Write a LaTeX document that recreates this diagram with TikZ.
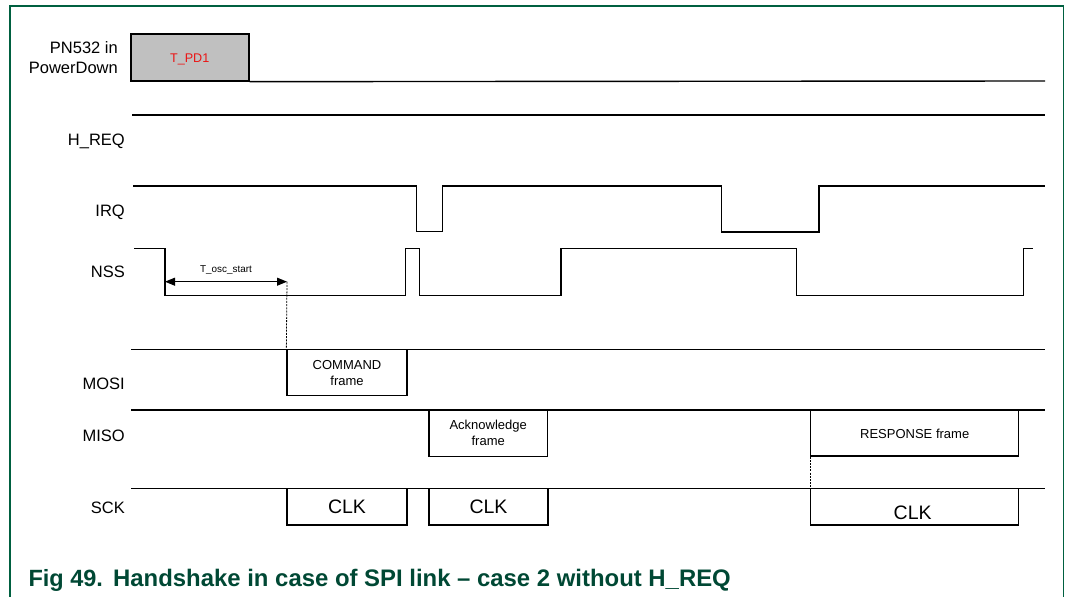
\documentclass[tikz,border=0pt]{standalone}
\usepackage{fontspec}
\setmainfont{Liberation Sans}
\usetikzlibrary{arrows.meta}
\definecolor{framegreen}{RGB}{0,96,64}
\definecolor{capgreen}{RGB}{0,72,52}
\definecolor{boxgray}{RGB}{192,192,192}
\definecolor{tred}{RGB}{235,20,20}
\tikzset{
  sig/.style={line width=1.4pt, line join=miter},
  frm/.style={draw, line width=1.3pt, inner sep=0pt, align=center},
  lbl/.style={anchor=base east, inner sep=0pt, font=\fontsize{16.5}{20}\selectfont},
  frtxt/.style={font=\fontsize{13}{16.4}\selectfont},
  clktxt/.style={anchor=base, inner sep=0pt, font=\fontsize{19.5}{22}\selectfont},
  guide/.style={line width=0.8pt, dash pattern=on 2pt off 1.2pt},
}
\begin{document}
\begin{tikzpicture}[x=1pt,y=-1pt]
\useasboundingbox (0,0) rectangle (1066,597);
% frame
\draw[framegreen, line width=1.3pt] (10,597) -- (10,6) -- (1063.7,6) -- (1063.7,597);

% signal labels
\node[lbl, align=right] (lpn) at (118,73.6) {PN532 in\\PowerDown};
\node[lbl] (lhreq) at (125,145.9) {H\_REQ};
\node[lbl] (lirq) at (125,216) {IRQ};
\node[lbl] (lnss) at (125,277.6) {NSS};
\node[lbl] (lmosi) at (125,389.2) {MOSI};
\node[lbl] (lmiso) at (125,441.6) {MISO};
\node[lbl] (lsck) at (125,513.2) {SCK};

% PN532 power down
\node[frm, fill=boxgray, minimum width=118pt, minimum height=47pt] (tpd) at (190,57.5) {};
\node[anchor=base, inner sep=0pt, text=tred, font=\fontsize{12.6}{14}\selectfont] (tpdt) at (189.7,62.2) {T\_PD1};
\draw[sig] (tpd.south east) -- (1045,81);

% H_REQ
\draw[sig] (132,115) -- (1045,115);

% IRQ
\draw[sig] (133,186) -- (416.5,186) -- (416.5,231.7) -- (442.7,231.7) -- (442.7,186)
  -- (721.7,186) -- (721.7,232) -- (819,232) -- (819,186) -- (1045,186);

% NSS
\draw[sig] (134,248.3) -- (165,248.3) -- (165,295.7) -- (405.5,295.7) -- (405.5,248.3)
  -- (419.3,248.3) -- (419.3,295.7) -- (561,295.7) -- (561,248.3) -- (796.7,248.3)
  -- (796.7,295.7) -- (1023.3,295.7) -- (1023.3,248.3) -- (1032.7,248.3);

% T_osc_start
\coordinate (oscA) at (165,281.7);
\coordinate (oscB) at (287,281.7);
\draw[line width=1pt, {Triangle[length=10pt,width=8pt]}-{Triangle[length=10pt,width=8pt]}] (oscA) -- (oscB);
\node[anchor=base, inner sep=0pt, font=\fontsize{9.9}{12}\selectfont] (osct) at (226,272.5) {T\_osc\_start};

% MOSI
\draw[sig] (131,349.3) -- (1045,349.3);
\node[frm, frtxt, minimum width=120pt, minimum height=46.5pt] (cmd) at (347,372.5) {};
\node[frtxt, inner sep=0pt, align=center, anchor=base] (cmdt) at (347,385.4) {COMMAND\\frame};
\draw[guide] (oscB) -- (cmd.north west);

% MISO
\draw[sig] (131,410) -- (1045,410);
\node[frm, minimum width=118.5pt, minimum height=46.5pt] (ack) at (488.2,433.2) {};
\node[frtxt, inner sep=0pt, align=center, anchor=base] (ackt) at (488.2,445.4) {Acknowledge\\frame};
\node[frm, minimum width=208pt, minimum height=46pt] (resp) at (914.7,433) {};
\node[frtxt, inner sep=0pt, anchor=base] (respt) at (914.7,438.7) {RESPONSE frame};

% SCK
\draw[sig] (131,488.3) -- (1045,488.3);
\node[frm, minimum width=120pt, minimum height=36.7pt] (clk1) at (347,506.7) {};
\node[clktxt] (clk1t) at (347,513.7) {CLK};
\node[frm, minimum width=119pt, minimum height=36.7pt] (clk2) at (488.5,506.7) {};
\node[clktxt] (clk2t) at (488.5,513.7) {CLK};
\node[frm, minimum width=208pt, minimum height=36.7pt] (clk3) at (914.7,506.7) {};
\node[clktxt] (clk3t) at (912.7,519.7) {CLK};
\draw[guide] (resp.south west) -- (clk3.north west);

% caption
\node[anchor=base west, inner sep=0pt, text=capgreen, font=\fontsize{23.5}{26}\selectfont\bfseries] (capa) at (28.3,586.7) {Fig 49.};
\node[anchor=base west, inner sep=0pt, text=capgreen, font=\fontsize{23.9}{26}\selectfont\bfseries] (capb) at (113,586.7) {Handshake in case of SPI link – case 2 without H\_REQ};
\end{tikzpicture}
\end{document}
